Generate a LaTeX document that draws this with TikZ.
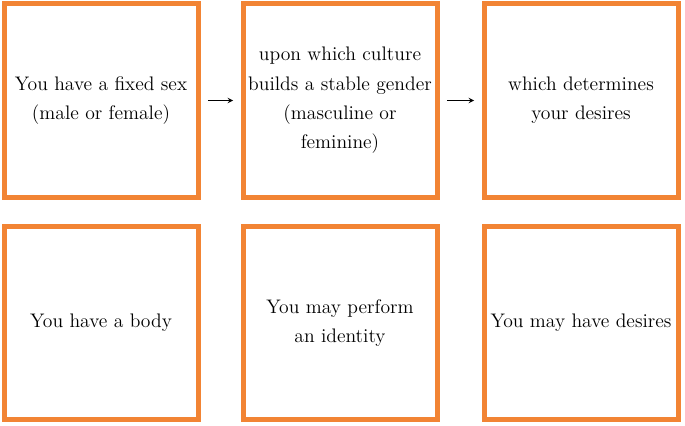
\documentclass[tikz,border=0pt]{standalone}
\usetikzlibrary{arrows, positioning}

\begin{document}
\begin{tikzpicture}[>=stealth, x=0.75pt, y=-0.75pt, node distance=18pt and 30pt]
	\definecolor{boxorange}{RGB}{242,132,52}
	\tikzstyle{format} = [draw=boxorange, line width=3.75pt, rectangle, minimum width=145.5pt, minimum height=145pt, inner sep=0pt, align=center, font=\fontsize{14.7}{22}\selectfont]
	\useasboundingbox (0,0) rectangle (685,425);

	\path[->, thick, shorten >=5.6pt, shorten <=5.6pt]
		node[format] at (101,100.5) (sex) {You have a fixed sex\\(male or female)}
		node[format, right=of sex] (gender) {upon which culture\\builds a stable gender\\(masculine or\\feminine)}
		node[format, right=31.5pt of gender] (desire) {which determines\\your desires}

		node[format, below=of sex] (body) {You have a body}
		node[format, below=of gender] (identity) {You may perform\\an identity}
		node[format, below=of desire] (wish) {You may have desires}

		(sex) edge (gender)
		(gender) edge (desire)
	;
\end{tikzpicture}
\end{document}
